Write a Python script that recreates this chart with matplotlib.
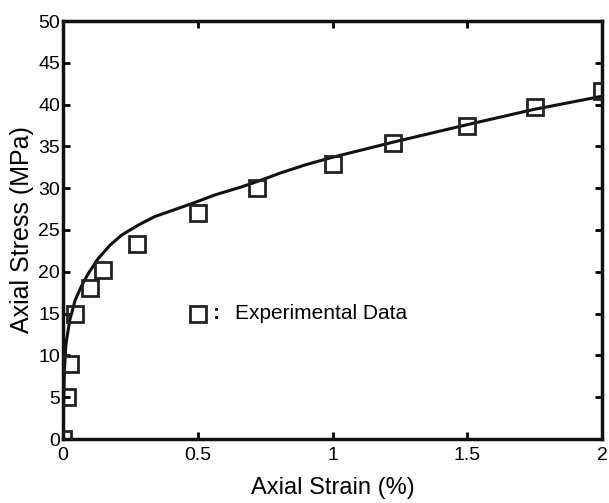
import numpy as np
import matplotlib
matplotlib.rcParams['font.family'] = ['Liberation Sans', 'DejaVu Sans']
from matplotlib import pyplot as plt

# experimental points
exp_strain = [0.0, 0.015, 0.025, 0.045, 0.10, 0.15, 0.275, 0.50, 0.72, 1.0, 1.225, 1.50, 1.75, 2.0]
exp_stress = [0.0, 5.0, 9.0, 15.0, 18.1, 20.2, 23.3, 27.0, 30.0, 32.9, 35.4, 37.4, 39.7, 41.6]

# model curve
fit_strain = [0.0, 0.002, 0.005, 0.010, 0.014, 0.025, 0.045, 0.07, 0.094, 0.131, 0.175, 0.218,
              0.28, 0.34, 0.42, 0.49, 0.564, 0.657, 0.73, 0.805, 0.9, 1.0, 1.224, 1.5, 1.744, 2.0]
fit_stress = [0.0, 4.0, 8.0, 11.0, 12.0, 14.2, 16.6, 18.4, 19.8, 21.6, 23.2, 24.4,
              25.6, 26.6, 27.5, 28.3, 29.2, 30.1, 30.9, 31.8, 32.8, 33.7, 35.5, 37.6, 39.4, 41.0]

fig = plt.figure(figsize=(6.09, 5.03), dpi=100)
ax = fig.add_axes([63/609, 1 - 439/503, (602-63)/609, (439-21)/503])

ax.plot(fit_strain, fit_stress, color='#111111', lw=2.2, zorder=2)
ax.plot(exp_strain, exp_stress, ls='none', marker='s', ms=12, mfc='none',
        mec='#222222', mew=2.0, zorder=3)

# in-plot legend
ax.plot([0.5], [15], ls='none', marker='s', ms=12, mfc='none', mec='#222222', mew=2.0)
ax.text(0.555, 15, ':', fontsize=15, fontweight='bold', va='center', ha='left')
ax.text(0.64, 15, 'Experimental Data', fontsize=15, va='center', ha='left')

ax.set_xlim(0, 2)
ax.set_ylim(0, 50)
ax.set_xticks([0, 0.5, 1, 1.5, 2])
ax.set_xticklabels(['0', '0.5', '1', '1.5', '2'])
ax.set_yticks(range(0, 51, 5))
ax.tick_params(direction='in', top=True, right=True, length=5, width=2,
               labelsize=14)
ax.tick_params(axis='x', pad=6)
ax.tick_params(axis='y', pad=2)
for s in ax.spines.values():
    s.set_linewidth(2.5)
    s.set_color('#111111')
ax.set_xlabel('Axial Strain (%)', fontsize=17, labelpad=9)
ax.set_ylabel('Axial Stress (MPa)', fontsize=18, labelpad=3)

fig.savefig('out.png', dpi=100)
